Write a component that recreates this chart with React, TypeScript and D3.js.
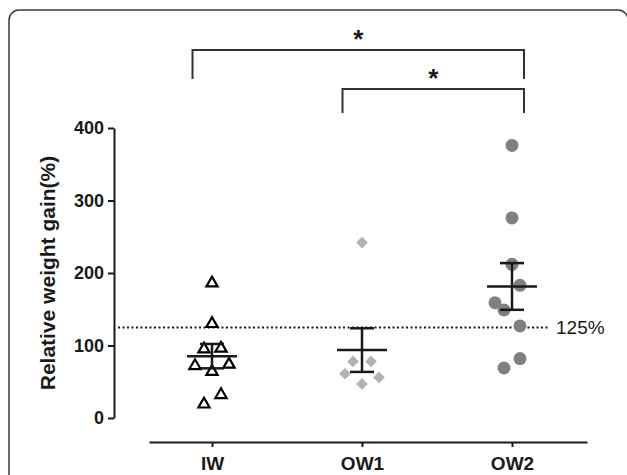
import React, { useRef, useEffect } from "react";
import * as d3 from "d3";

const groups = ["IW", "OW1", "OW2"];
const iwValues = [186, 130, 95, 96, 72, 74, 64, 32, 19];
const iwOffsets = [0, 0, -8, 9, -17, 17, 0, 9, -8];
const ow1Values = [242, 78, 78, 61, 56, 47];
const ow1Offsets = [0, -9, 9, -17, 17, 0];
const ow2Values = [376, 276, 212, 183, 159, 149, 127, 82, 69];
const ow2Offsets = [0, 0, 0, 8, -17, -8, 8, 8, -8];
const yTicks = [0, 100, 200, 300, 400];
const threshold = 125;
// bracket ends are drawn a bit off the column centres, as in the figure
const comparisons = [
  { from: 0.87, to: 3.08, label: "*", level: 0 },
  { from: 1.87, to: 3.08, label: "*", level: 1 },
];

const W = 627;
const H = 475;

function meanSem(v: number[]) {
  const m = d3.mean(v) ?? 0;
  const sd = d3.deviation(v) ?? 0;
  return { mean: m, sem: sd / Math.sqrt(v.length) };
}

export default function App() {
  const ref = useRef<SVGSVGElement>(null);

  useEffect(() => {
    if (!ref.current) return;
    const svg = d3.select(ref.current);
    svg.selectAll("*").remove();

    const font = "Liberation Sans, Arial, Helvetica, sans-serif";
    const ink = "#1a1a1a";

    // frame
    svg
      .append("rect")
      .attr("x", 9)
      .attr("y", 10)
      .attr("width", 619)
      .attr("height", 500)
      .attr("rx", 10)
      .attr("fill", "none")
      .attr("stroke", "#3a3a3a")
      .attr("stroke-width", 1.5);

    const x = d3.scaleLinear().domain([0.58, 3.5]).range([149, 587]);
    const pos = (g: string) => x(groups.indexOf(g) + 1);
    const y = d3.scaleLinear().domain([0, 400]).range([418, 128]);

    // y axis
    const yAxis = svg
      .append("g")
      .attr("transform", "translate(114,0)")
      .call(d3.axisLeft(y).tickValues(yTicks).tickSize(6).tickSizeOuter(0).tickPadding(4));
    yAxis.select(".domain").attr("stroke", ink).attr("stroke-width", 2);
    yAxis.selectAll(".tick line").attr("stroke", ink).attr("stroke-width", 2);
    yAxis
      .selectAll(".tick text")
      .attr("fill", ink)
      .style("font-family", font)
      .style("font-size", "18px")
      .style("font-weight", "bold");

    // x axis
    const xAxis = svg
      .append("g")
      .attr("transform", "translate(0,442)")
      .call(
        d3
          .axisBottom(x)
          .tickValues([1, 2, 3])
          .tickFormat((d) => groups[(d as number) - 1])
          .tickSize(5)
          .tickSizeOuter(0)
          .tickPadding(10)
      );
    xAxis.select(".domain").attr("stroke", ink).attr("stroke-width", 2);
    xAxis.selectAll(".tick line").attr("stroke", ink).attr("stroke-width", 2);
    xAxis
      .selectAll(".tick text")
      .attr("fill", ink)
      .style("font-family", font)
      .style("font-size", "19px")
      .style("font-weight", "bold");

    // y title
    svg
      .append("text")
      .attr("transform", `translate(55,${(y(0) + y(400)) / 2}) rotate(-90)`)
      .attr("text-anchor", "middle")
      .style("font-family", font)
      .style("font-size", "21px")
      .style("font-weight", "bold")
      .attr("fill", ink)
      .text("Relative weight gain(%)");

    // threshold line
    svg
      .append("line")
      .attr("x1", 118)
      .attr("x2", 550)
      .attr("y1", y(threshold))
      .attr("y2", y(threshold))
      .attr("stroke", ink)
      .attr("stroke-width", 2)
      .attr("stroke-dasharray", "2,2.5");
    svg
      .append("text")
      .attr("x", 556)
      .attr("y", y(threshold) + 7)
      .style("font-family", font)
      .style("font-size", "19px")
      .attr("fill", ink)
      .text(`${threshold}%`);

    // points
    const tri = d3.symbol().type(d3.symbolTriangle).size(55);
    svg
      .append("g")
      .selectAll("path")
      .data(iwValues)
      .join("path")
      .attr("d", tri)
      .attr("transform", (d, i) => `translate(${pos("IW") + iwOffsets[i]},${y(d)})`)
      .attr("fill", "white")
      .attr("stroke", "black")
      .attr("stroke-width", 2.2);

    const dia = d3.symbol().type(d3.symbolSquare).size(68);
    svg
      .append("g")
      .selectAll("path")
      .data(ow1Values)
      .join("path")
      .attr("d", dia)
      .attr("transform", (d, i) => `translate(${pos("OW1") + ow1Offsets[i]},${y(d)}) rotate(45)`)
      .attr("fill", "#b3b3b3");

    svg
      .append("g")
      .selectAll("circle")
      .data(ow2Values)
      .join("circle")
      .attr("cx", (d, i) => pos("OW2") + ow2Offsets[i])
      .attr("cy", (d) => y(d))
      .attr("r", 6.5)
      .attr("fill", "#808080");

    // mean +- SEM
    const stats = [
      { g: "IW", ...meanSem(iwValues) },
      { g: "OW1", ...meanSem(ow1Values) },
      { g: "OW2", ...meanSem(ow2Values) },
    ];
    const eb = svg.append("g").attr("stroke", ink).attr("stroke-width", 2.5);
    stats.forEach((s) => {
      const cx = pos(s.g);
      eb.append("line").attr("x1", cx - 25).attr("x2", cx + 25).attr("y1", y(s.mean)).attr("y2", y(s.mean));
      eb.append("line").attr("x1", cx).attr("x2", cx).attr("y1", y(s.mean - s.sem)).attr("y2", y(s.mean + s.sem));
      [s.mean - s.sem, s.mean + s.sem].forEach((v) => {
        eb.append("line").attr("x1", cx - 12).attr("x2", cx + 12).attr("y1", y(v)).attr("y2", y(v));
      });
    });

    // significance brackets
    const levels = [50, 89];
    const drops = [79, 113];
    comparisons.forEach((c) => {
      const x1 = x(c.from);
      const x2 = x(c.to);
      const top = levels[c.level];
      svg
        .append("path")
        .attr("d", `M${x1},${drops[c.level]}V${top}H${x2}V${drops[c.level]}`)
        .attr("fill", "none")
        .attr("stroke", "#333")
        .attr("stroke-width", 2);
      svg
        .append("text")
        .attr("x", (x1 + x2) / 2)
        .attr("y", top - 2)
        .attr("text-anchor", "middle")
        .style("font-family", font)
        .style("font-size", "26px")
        .style("font-weight", "bold")
        .attr("fill", ink)
        .text(c.label);
    });
  }, []);

  return (
    <svg
      ref={ref}
      width={W}
      height={H}
      style={{ position: "absolute", left: 0, top: 0, background: "white" }}
    />
  );
}
